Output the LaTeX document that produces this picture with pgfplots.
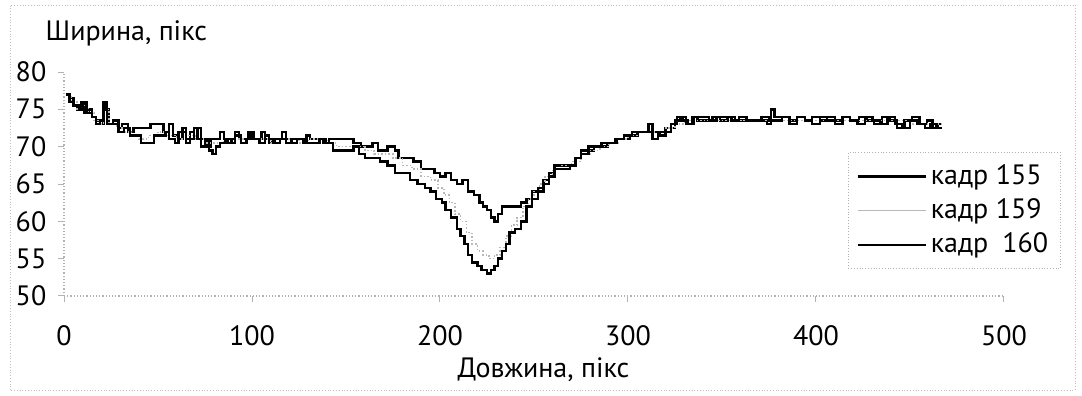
\documentclass[border=0pt]{standalone}
\usepackage{fontspec}
\setmainfont{PT Sans}
\usepackage{pgfplots}
\pgfplotsset{compat=1.18}
\begin{document}
\fontsize{14}{16}\selectfont
\begin{tikzpicture}
\path[use as bounding box] (0,0) rectangle (541pt,198pt);
\draw[gray!50, densely dotted, line width=0.4pt] (5pt,3pt) rectangle (537.5pt,195.5pt);
\begin{axis}[
  at={(32pt,50pt)}, anchor=south west,
  scale only axis, width=470pt, height=112pt,
  xmin=0, xmax=500, ymin=50, ymax=80,
  axis x line=bottom, axis y line=left,
  axis line style={gray!60, densely dotted, line width=0.6pt, -},
  xtick={0,100,...,500}, ytick={50,55,...,80},
  tick style={gray!60, line width=0.5pt},
  major tick length=3pt,
  tick align=outside,
  /pgf/number format/assume math mode=true,
  xticklabel style={yshift=-7pt, font=\fontsize{14}{16}\selectfont},
  yticklabel style={font=\fontsize{14}{16}\selectfont, xshift=-1pt},
  every axis x label/.style={at={(rel axis cs:0.51,0)}, anchor=center, yshift=-37pt},
  every axis y label/.style={at={(rel axis cs:0,1)}, anchor=west, xshift=-14pt, yshift=19.5pt},
  xlabel={Довжина, пікс},
  ylabel={Ширина, пікс},
  legend style={at={(0.834,0.643)}, anchor=north west, draw=gray!60, densely dotted, fill=white,
    font=\fontsize{14}{16}\selectfont, row sep=1pt, inner xsep=4pt, inner ysep=4pt},
  legend cell align=left,
  legend image code/.code={\draw[#1, solid] (0pt,0pt) -- (34pt,0pt);},
]
\addplot[black, line width=1.2pt, const plot, line join=miter] coordinates {
(1,77) (3,76.5) (5,75.5) (7,75) (9,76) (11,74.5) (13,75) (15,74) (17,73.5) (19,73)
(21,76) (22.5,75) (24,73) (26,73.5) (29,72.5) (31,73) (34,72) (37,72.5) (41,72.5) (46,73)
(51,73) (53,72) (56,73) (58,71.5) (61,71) (63,72) (65,71) (67,72) (69,71) (71,72.5)
(73,71) (76,70) (78,71) (81,71) (83,72) (85,71) (87,70.5) (89,71) (91,72) (93,71)
(96,71) (98,72) (100,71) (103,71) (105,72) (107,71) (109,70.5) (111,71) (114,71) (116,72)
(118,71) (121,70.5) (124,71) (127,70.5) (129,71.5) (131,71) (135,71) (138,70.5) (141,71) (146,71)
(151,71) (154,70.5) (158,70) (161,70) (164,70.5) (167,69.5) (172,70) (176,69.5) (178,68.5) (182,68.5)
(186,68) (190,67) (194,67) (197,66.5) (200,66) (203,66.5) (206,65.5) (209,65) (212,65.5) (215,64)
(218,63.5) (221,62.5) (223,62) (225,61.5) (227,60.5) (229,60) (231,61) (233,62) (236,62) (239,62)
(243,62.5) (246,63) (249,64) (252,64.5) (255,65.5) (258,66.5) (261,67.5) (265,67.5) (269,67.5) (272,68.5)
(275,69.5) (279,69.5) (282,70) (285,70) (289,70.5) (293,71) (297,71) (301,71.5) (305,72) (308,72)
(311,73) (313,72) (317,71.5) (320,72.5) (323,72.5) (325,73.5) (328,74) (331,73) (334,74) (337,73.5)
(341,73.5) (345,74) (349,73.5) (353,74) (357,73.5) (361,73.5) (365,73.5) (370,73.5) (374,73) (376,75)
(378,74) (382,74) (386,73.5) (390,74) (394,73.5) (398,74) (402,73.5) (406,74) (410,73.5) (414,74)
(418,73.5) (423,74) (427,73.5) (431,73) (435,74) (439,73.5) (443,72.5) (447,73.5) (451,74) (455,73)
(459,73.5) (462,72.5) (465,73) (467,73)
};
\addlegendentry{кадр 155}
\addplot[gray!55, densely dotted, line width=0.8pt, const plot] coordinates {
(1,77) (4,76) (7,75) (10,75.5) (13,74.5) (16,73.5) (19,73) (21,75) (24,73) (28,72.5)
(32,72) (36,71.5) (40,71) (45,71.5) (50,72) (55,71.5) (60,71) (65,71.5) (70,71) (75,70.5)
(80,70.5) (85,71) (90,71) (95,71) (100,71) (105,71) (110,70.5) (115,71) (120,71) (125,70.5)
(130,71) (135,71) (140,70.5) (145,70) (150,70) (155,70) (160,69.5) (165,69) (170,69) (175,68.5)
(180,67.5) (185,67) (190,66) (195,65.5) (199,64.5) (202,63.5) (205,62.5) (208,61) (211,60) (214,58.5)
(217,57) (220,56) (223,55.5) (226,55) (229,55.5) (232,56.5) (235,58) (238,59.5) (241,60.5) (244,62)
(247,63) (250,64) (253,65) (256,66) (260,67) (265,67.5) (270,68) (275,69) (280,69.5) (285,70)
(290,70.5) (295,71) (300,71.5) (305,72) (310,72) (315,72) (320,72.5) (325,73) (330,73.5) (340,73.5)
(350,73.5) (360,73.5) (370,73.5) (380,73.5) (390,73.5) (400,73.5) (410,73.5) (420,73.5) (430,73.5) (440,73.5)
(450,73) (460,73) (467,73)
};
\addlegendentry{кадр 159}
\addplot[black, line width=1.2pt, const plot, line join=miter] coordinates {
(1,77) (3,76) (5,75.5) (8,75) (10,76) (12,74.5) (15,74) (17,73) (19,73.5) (21,75.5)
(23,73) (26,73) (29,72) (32,72.5) (35,71.5) (38,71.5) (41,70.5) (46,70.5) (48,71.5) (51,71.5)
(54,72) (56,71) (59,70.5) (61,72) (63,72.5) (65,70.5) (67,71) (69,72.5) (71,71) (73,70)
(75,71) (77,69.5) (79,69) (81,70) (83,70.5) (86,71) (89,70.5) (91,71.5) (94,70.5) (97,71)
(99,72) (101,71) (104,70.5) (107,71.5) (109,71) (112,70.5) (115,71) (118,70.5) (121,71) (125,71)
(128,70.5) (132,70.5) (136,71) (139,70.5) (143,69.5) (147,69.5) (150,69.5) (154,70) (157,69) (160,68.5)
(164,68.5) (168,68) (172,67.5) (176,66.5) (180,66.5) (184,65.5) (188,65) (192,64.5) (195,64) (198,63)
(201,62.5) (203,61.5) (206,60.5) (209,59) (211,58) (213,57) (215,55.5) (217,54.5) (220,54) (222,53.5)
(225,53) (227,53.5) (229,54) (231,55) (233,56) (235,57) (237,58.5) (240,59) (243,60) (246,62)
(249,63) (252,64) (255,65) (258,66) (261,67) (265,67) (269,67.5) (272,68.5) (275,69) (279,70)
(282,70) (286,70.5) (290,70.5) (294,71) (298,71.5) (302,72) (306,72) (310,72) (313,71) (316,72)
(320,72) (323,73) (326,74) (329,73.5) (332,73) (335,74) (339,74) (343,73.5) (347,74) (351,74)
(355,73.5) (359,74) (363,73.5) (367,73.5) (371,74) (375,73.5) (378,73.5) (382,74) (386,73) (390,74)
(394,73.5) (398,73) (402,74) (406,73.5) (410,73) (414,74) (418,73.5) (422,73) (426,74) (430,73.5)
(434,73) (438,74) (442,73) (446,72.5) (450,73.5) (454,73) (458,72.5) (461,73) (464,72.5) (467,72.5)
};
\addlegendentry{кадр\enspace160}
\end{axis}
\end{tikzpicture}
\end{document}
